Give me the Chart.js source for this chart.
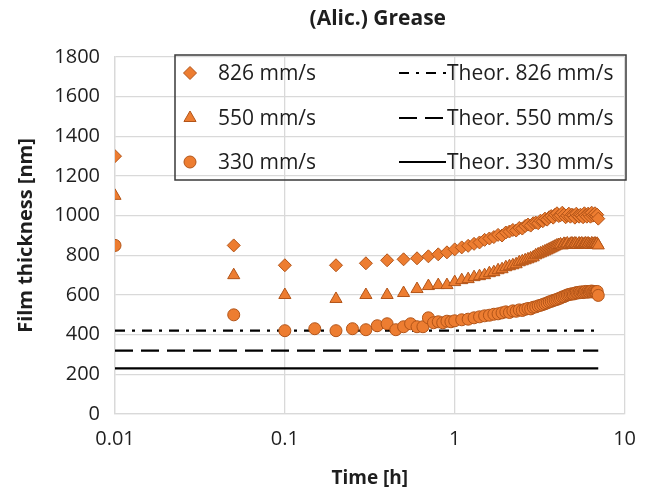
<!DOCTYPE html>
<html>
<head>
<meta charset="utf-8">
<script src="https://cdn.jsdelivr.net/npm/chart.js@4"></script>
<style>
  html, body { margin: 0; padding: 0; background: #fff; }
  #wrap { width: 649px; height: 493px; }
</style>
</head>
<body>
<div id="wrap"><canvas id="chart_grease"></canvas></div>
<script>
const chartTitle = "(Alic.) Grease";
const xTitle = "Time [h]";
const yTitle = "Film thickness [nm]";
const xTickValues = [0.01, 0.1, 1, 10];

// times (h) for the 826 and 550 mm/s series
const timeMain = [0.01, 0.05, 0.1, 0.2, 0.3, 0.4, 0.5, 0.6, 0.7, 0.8, 0.9, 1.0,
    1.1, 1.2, 1.3, 1.4, 1.5, 1.6, 1.7, 1.8, 1.9, 2.0,
    2.1, 2.2, 2.3, 2.4, 2.5, 2.6, 2.7, 2.8, 2.9, 3.0,
    3.1, 3.2, 3.3, 3.4, 3.5, 3.6, 3.7, 3.8, 3.9, 4.0,
    4.1, 4.2, 4.3, 4.4, 4.5, 4.6, 4.7, 4.8, 4.9, 5.0,
    5.1, 5.2, 5.3, 5.4, 5.5, 5.6, 5.7, 5.8, 5.9, 6.0,
    6.1, 6.2, 6.3, 6.4, 6.5, 6.6, 6.7, 6.8, 6.9, 7.0];

const film826 = [1300, 850, 750, 750, 760, 775, 780, 785, 795, 805, 815, 830,
    840, 848, 858, 865, 878, 885, 892, 903, 900, 915,
    920, 928, 925, 938, 935, 948, 955, 950, 962, 965,
    962, 975, 972, 985, 980, 992, 998, 990, 1005, 1012,
    998, 1002, 1015, 1005, 992, 1000, 1010, 995, 1005, 1002,
    990, 1010, 1000, 995, 1005, 1000, 992, 1012, 1002, 995,
    1010, 1005, 995, 1015, 1000, 1006, 1012, 998, 1005, 985];

const film550 = [1100, 700, 600, 580, 600, 600, 610, 630, 645, 650, 650, 665,
    675, 680, 690, 695, 700, 710, 715, 725, 730, 740,
    745, 750, 755, 765, 770, 775, 780, 785, 790, 800,
    805, 810, 815, 820, 825, 830, 835, 840, 845, 850,
    852, 855, 850, 858, 855, 860, 852, 858, 860, 855,
    860, 858, 852, 860, 856, 860, 854, 858, 860, 855,
    860, 856, 852, 860, 858, 855, 860, 856, 858, 850];

// times (h) for the 330 mm/s series
const time330 = [0.01, 0.05, 0.1, 0.15, 0.2, 0.25, 0.3, 0.35, 0.4, 0.45, 0.5,
    0.55, 0.6, 0.65, 0.7, 0.75, 0.8, 0.85, 0.9, 0.95, 1.0,
    1.1, 1.2, 1.3, 1.4, 1.5, 1.6, 1.7, 1.8, 1.9, 2.0,
    2.1, 2.2, 2.3, 2.4, 2.5, 2.6, 2.7, 2.8, 2.9, 3.0,
    3.1, 3.2, 3.3, 3.4, 3.5, 3.6, 3.7, 3.8, 3.9, 4.0,
    4.1, 4.2, 4.3, 4.4, 4.5, 4.6, 4.7, 4.8, 4.9, 5.0,
    5.1, 5.2, 5.3, 5.4, 5.5, 5.6, 5.7, 5.8, 5.9, 6.0,
    6.1, 6.2, 6.3, 6.4, 6.5, 6.6, 6.7, 6.8, 6.9, 7.0];

const film330 = [850, 500, 420, 430, 420, 430, 425, 445, 455, 425, 440,
    455, 440, 440, 485, 460, 465, 460, 468, 465, 470,
    475, 478, 485, 490, 495, 498, 503, 505, 510, 515,
    512, 520, 518, 525, 522, 528, 532, 530, 538, 540,
    545, 548, 552, 556, 560, 565, 568, 572, 575, 578,
    582, 585, 590, 592, 596, 600, 602, 604, 606, 605,
    608, 612, 610, 614, 612, 616, 612, 615, 618, 614,
    618, 615, 618, 620, 615, 618, 616, 614, 618, 598];

// theoretical film thickness (flat lines)
const theorTime = [0.01, 7];
const theor826 = [420, 420];
const theor550 = [320, 320];
const theor330 = [230, 230];

const orange = '#ED7D31';
const orangeEdge = '#B25418';
const textColor = '#1e1e1e';
const gridColor = '#d9d9d9';
const fontName = "'Open Sans', sans-serif";

function toPoints(xs, ys){
    return xs.map((x, i) => ({x: x, y: ys[i]}));
}

function markerSet(label, xs, ys, style, radius){
    return {
        type: 'scatter',
        label: label,
        data: toPoints(xs, ys),
        pointStyle: style,
        pointRadius: radius,
        pointBackgroundColor: orange,
        pointBorderColor: orangeEdge,
        pointBorderWidth: 1,
        showLine: false
    };
}

function lineSet(label, xs, ys, dash){
    return {
        type: 'line',
        label: label,
        data: toPoints(xs, ys),
        borderColor: '#000',
        borderWidth: 2.2,
        borderDash: dash,
        pointRadius: 0,
        fill: false
    };
}

const datasets = [
    markerSet('826 mm/s', timeMain, film826, 'rectRot', 6.5),
    markerSet('550 mm/s', timeMain, film550, 'triangle', 7),
    markerSet('330 mm/s', time330, film330, 'circle', 6),
    lineSet('Theor. 826 mm/s', theorTime, theor826, [10, 7, 3, 7]),
    lineSet('Theor. 550 mm/s', theorTime, theor550, [18, 8]),
    lineSet('Theor. 330 mm/s', theorTime, theor330, [])
];

// legend drawn as a 3x2 grid, like the spreadsheet one
const gridLegend = {
    id: 'gridLegend',
    afterDraw(chart){
        const ctx = chart.ctx;
        const box = {left: 175, top: 55, right: 626, bottom: 180};
        const rows = [73, 118, 162];
        ctx.save();
        ctx.strokeStyle = '#3a3a3a';
        ctx.lineWidth = 1.5;
        ctx.strokeRect(box.left, box.top, box.right - box.left, box.bottom - box.top);
        ctx.font = "21px " + fontName;
        ctx.fillStyle = textColor;
        ctx.textBaseline = 'middle';
        for(let i = 0; i < 3; i++){
            const ds = chart.data.datasets[i];
            ctx.fillStyle = ds.pointBackgroundColor;
            ctx.strokeStyle = ds.pointBorderColor;
            ctx.lineWidth = 1;
            Chart.helpers.drawPoint(ctx, {pointStyle: ds.pointStyle, radius: ds.pointRadius, rotation: 0, borderWidth: 1}, 190, rows[i]);
            ctx.fillStyle = textColor;
            ctx.fillText(ds.label, 218, rows[i] + 1);

            const ln = chart.data.datasets[i + 3];
            ctx.strokeStyle = '#000';
            ctx.lineWidth = 2.2;
            ctx.setLineDash(ln.borderDash);
            ctx.beginPath();
            ctx.moveTo(399, rows[i]);
            ctx.lineTo(446, rows[i]);
            ctx.stroke();
            ctx.setLineDash([]);
            ctx.fillText(ln.label, 447, rows[i] + 1);
        }
        ctx.restore();
    }
};

const topTitle = {
    id: 'topTitle',
    afterDraw(chart){
        const ctx = chart.ctx;
        const area = chart.chartArea;
        ctx.save();
        ctx.font = "bold 21px " + fontName;
        ctx.fillStyle = textColor;
        ctx.textAlign = 'center';
        ctx.textBaseline = 'middle';
        ctx.fillText(chartTitle, (area.left + area.right) / 2 + 8, 19);
        ctx.restore();
    }
};

new Chart(document.getElementById('chart_grease'), {
    type: 'scatter',
    data: { datasets: datasets },
    plugins: [gridLegend, topTitle],
    options: {
        responsive: true,
        maintainAspectRatio: false,
        animation: false,
        layout: { padding: { top: 57, right: 23, left: 0, bottom: 0 } },
        plugins: {
            legend: { display: false },
            tooltip: { enabled: false },
            title: { display: false }
        },
        scales: {
            x: {
                type: 'logarithmic',
                min: 0.01,
                max: 10,
                afterBuildTicks: (axis) => {
                    axis.ticks = xTickValues.map(v => ({value: v}));
                },
                afterFit: (axis) => { axis.height = 79; },
                ticks: {
                    color: textColor,
                    font: { family: fontName, size: 20 },
                    padding: 13,
                    maxRotation: 0,
                    autoSkip: false,
                    callback: (v) => String(v)
                },
                grid: { color: gridColor, lineWidth: 1.3, drawTicks: false },
                border: { color: gridColor, width: 1.3 },
                title: {
                    display: true,
                    text: xTitle,
                    color: textColor,
                    font: { family: fontName, size: 19, weight: 'bold' },
                    padding: { top: 0, bottom: 3 }
                }
            },
            y: {
                min: 0,
                max: 1800,
                afterFit: (axis) => { axis.width = 115; },
                ticks: {
                    stepSize: 200,
                    color: textColor,
                    font: { family: fontName, size: 20 },
                    padding: 15,
                    callback: (v) => String(v)
                },
                grid: { color: gridColor, lineWidth: 1.3, drawTicks: false },
                border: { color: gridColor, width: 1.3 },
                title: {
                    display: true,
                    text: yTitle,
                    color: textColor,
                    font: { family: fontName, size: 20, weight: 'bold' },
                    padding: { top: 14, bottom: 0 }
                }
            }
        }
    }
});
</script>
</body>
</html>
